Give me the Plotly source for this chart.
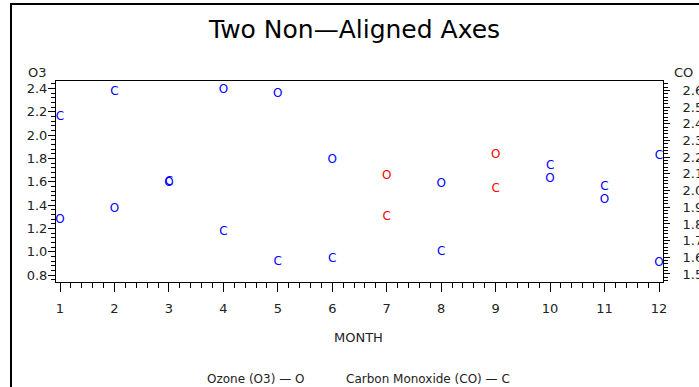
import plotly.graph_objects as go

months = [1, 2, 3, 4, 5, 6, 7, 8, 9, 10, 11, 12]
ozone = [1.27, 1.37, 1.59, 2.39, 2.35, 1.79, 1.65, 1.58, 1.83, 1.62, 1.44, 0.90]
co = [2.44, 2.59, 2.05, 1.75, 1.57, 1.59, 1.84, 1.63, 2.01, 2.15, 2.02, 2.21]
point_colors = ["blue", "blue", "blue", "blue", "blue", "blue", "red",
                "blue", "red", "blue", "blue", "blue"]

W, H = 699, 387
L, R, T, B = 56, 663, 81, 282


def px(x):
    return (x - L) / (R - L)


def py(y):
    return (B - y) / (B - T)


tick_font = dict(family="DejaVu Sans", size=13, color="#222222")
small_font = dict(family="DejaVu Sans", size=12, color="#222222")

fig = go.Figure()
fig.add_trace(go.Scatter(
    x=months, y=ozone, mode="text", text=["O"] * len(months),
    textposition="middle center",
    textfont=dict(family="DejaVu Sans", size=12, color=point_colors),
    showlegend=False, hoverinfo="skip", yaxis="y", cliponaxis=False))
fig.add_trace(go.Scatter(
    x=months, y=co, mode="text", text=["C"] * len(months),
    textposition="middle center",
    textfont=dict(family="DejaVu Sans", size=12, color=point_colors),
    showlegend=False, hoverinfo="skip", yaxis="y2", cliponaxis=False))

axis_common = dict(showgrid=False, zeroline=False, showline=True,
                   linecolor="black", linewidth=1, ticks="outside",
                   tickcolor="black", tickwidth=1, tickfont=tick_font,
                   automargin=False)

fig.update_layout(
    width=W, height=H,
    margin=dict(l=L, r=W - R, t=T, b=H - B, autoexpand=False),
    paper_bgcolor="white", plot_bgcolor="white",
    showlegend=False,
    xaxis=dict(**axis_common, range=[0.9265, 12.0735], tickmode="array",
               tickvals=months, ticktext=[str(m) for m in months],
               ticklen=9, mirror=True, ticklabelstandoff=5,
               minor=dict(dtick=0.2, ticklen=5, ticks="outside",
                          tickcolor="black", showgrid=False)),
    yaxis=dict(**axis_common, range=[0.74, 2.464], tickmode="array",
               tickvals=[0.8, 1.0, 1.2, 1.4, 1.6, 1.8, 2.0, 2.2, 2.4],
               ticktext=["0.8", "1.0", "1.2", "1.4", "1.6", "1.8", "2.0", "2.2", "2.4"],
               ticklen=7, ticklabelstandoff=-2,
               minor=dict(tick0=0.8, dtick=0.04, ticklen=4, ticks="outside",
                          tickcolor="black", showgrid=False)),
    yaxis2=dict(**axis_common, overlaying="y", side="right",
                range=[1.452, 2.657], tickmode="array",
                tickvals=[1.5, 1.6, 1.7, 1.8, 1.9, 2.0, 2.1, 2.2, 2.3, 2.4, 2.5, 2.6],
                ticktext=["1.5", "1.6", "1.7", "1.8", "1.9", "2.0", "2.1", "2.2",
                          "2.3", "2.4", "2.5", "2.6"],
                ticklen=6, ticklabelstandoff=10,
                minor=dict(tick0=1.5, dtick=0.02, ticklen=4, ticks="outside",
                           tickcolor="black", showgrid=False)),
)

# page frame
fig.add_shape(type="rect", xref="paper", yref="paper",
              x0=px(11), x1=px(720), y0=py(400), y1=py(4),
              line=dict(color="black", width=2), fillcolor="rgba(0,0,0,0)",
              layer="below")

annots = [
    dict(text="Two Non—Aligned Axes", x=px(354), y=py(29),
         font=dict(family="DejaVu Sans", size=25, color="black")),
    dict(text="O3", x=px(37), y=py(72), font=tick_font),
    dict(text="CO", x=px(683), y=py(72), font=tick_font),
    dict(text="MONTH", x=px(358), y=py(337), font=tick_font),
    dict(text="Ozone (O3) — O", x=px(256), y=py(379), font=small_font),
    dict(text="Carbon Monoxide (CO) — C", x=px(428), y=py(379), font=small_font),
]
for a in annots:
    fig.add_annotation(xref="paper", yref="paper", showarrow=False,
                       xanchor="center", yanchor="middle", **a)

fig.write_html("out.html")
